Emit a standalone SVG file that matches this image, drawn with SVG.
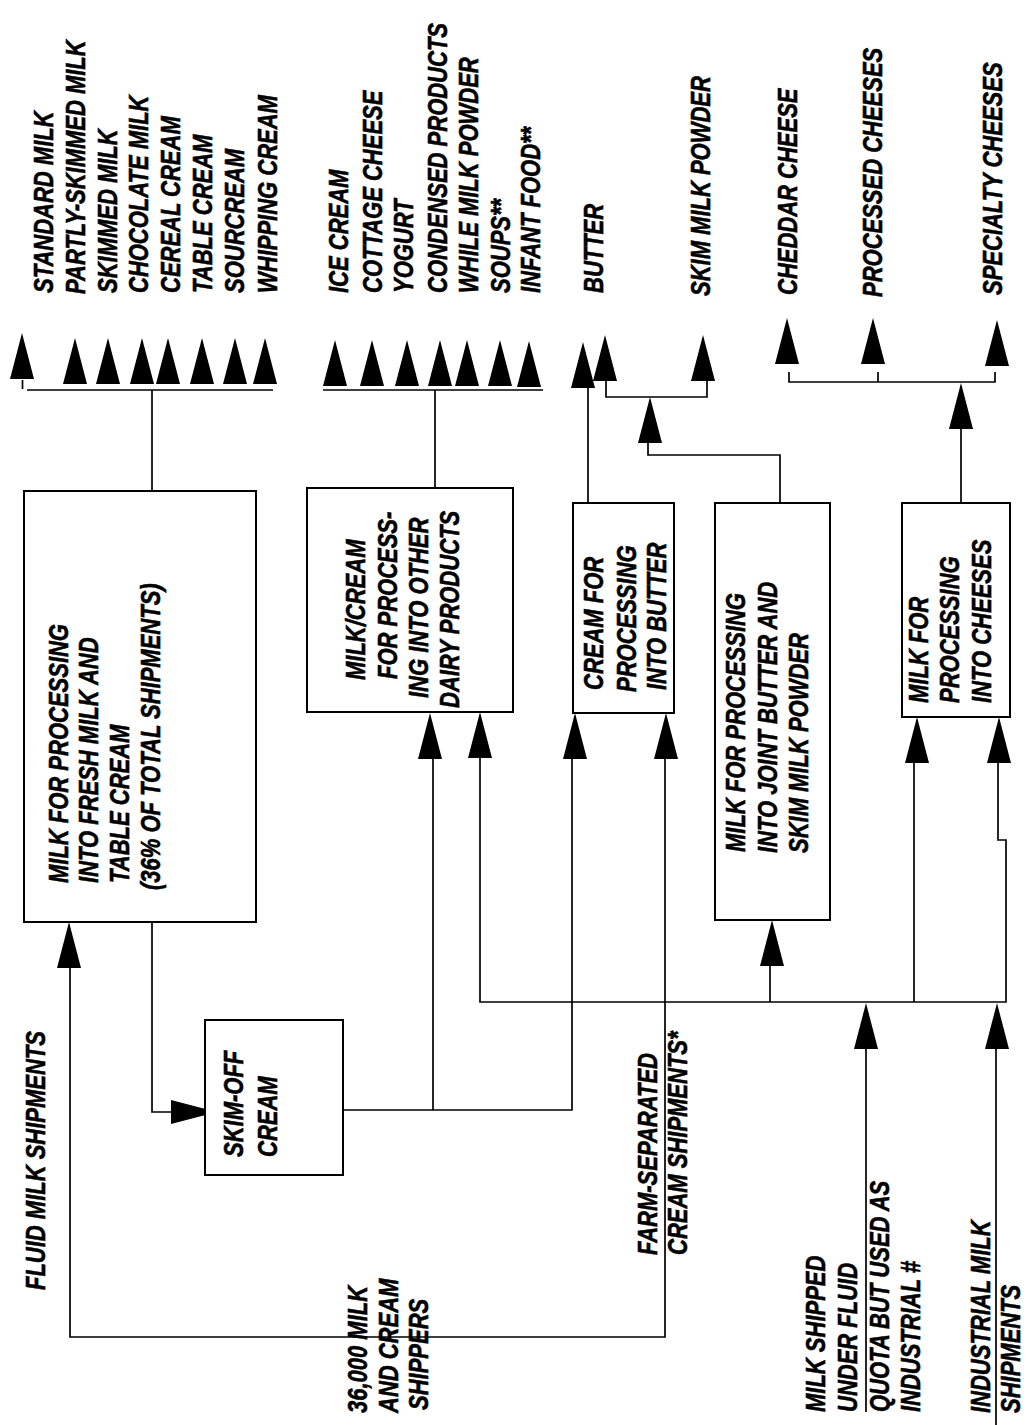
<svg xmlns="http://www.w3.org/2000/svg" width="1028" height="1425" viewBox="0 0 1028 1425">
<style>
.t{font-family:"Liberation Sans",Arial,sans-serif;font-weight:bold;font-style:italic;font-size:27px;fill:#000;stroke:#000;stroke-width:0.6}
.box{fill:#fff;stroke:#000;stroke-width:2}
.ln{fill:none;stroke:#000;stroke-width:1.7}
</style>
<defs>
<path id="ah" d="M0,0 L-12,46 L12,46 Z" fill="#000"/>
</defs>
<rect width="1028" height="1425" fill="#fff"/>

<g id="connectors">
<path class="ln" d="M27,390 H273 M152,390 V491 M22.5,380 V389"/>
<path class="ln" d="M323,390 H543 M435,390 V488"/>
<path class="ln" d="M588,387 V503"/>
<path class="ln" d="M606,380 V397 H707 V380"/>
<path class="ln" d="M648,443 V455 H780 V503"/>
<path class="ln" d="M789,372 V382 H995 V372 M878,372 V382"/>
<path class="ln" d="M961,428 V503"/>
<path class="ln" d="M70,965 V1337 H665 V758"/>
<path class="ln" d="M152,922 V1112 H172"/>
<path class="ln" d="M329,1110 H572 V757"/>
<path class="ln" d="M433,1110 V758"/>
<path class="ln" d="M480,757 V1002 H1006 V840 H998 V760"/>
<path class="ln" d="M770,1002 V963"/>
<path class="ln" d="M914,1002 V762"/>
<path class="ln" d="M866,1048 V1412"/>
<path class="ln" d="M996,1048 V1425"/>
<use href="#ah" x="22" y="333"/>
<use href="#ah" x="75" y="338"/>
<use href="#ah" x="108" y="338"/>
<use href="#ah" x="142" y="338"/>
<use href="#ah" x="168" y="338"/>
<use href="#ah" x="202" y="338"/>
<use href="#ah" x="235" y="338"/>
<use href="#ah" x="265" y="338"/>
<use href="#ah" x="335" y="340"/>
<use href="#ah" x="372" y="340"/>
<use href="#ah" x="407" y="340"/>
<use href="#ah" x="440" y="340"/>
<use href="#ah" x="467" y="340"/>
<use href="#ah" x="500" y="340"/>
<use href="#ah" x="529" y="341"/>
<use href="#ah" x="583" y="342"/>
<use href="#ah" x="605" y="335"/>
<use href="#ah" x="703" y="335"/>
<use href="#ah" x="650" y="397"/>
<use href="#ah" x="787" y="318"/>
<use href="#ah" x="873" y="318"/>
<use href="#ah" x="997" y="320"/>
<use href="#ah" x="961" y="383"/>
<use href="#ah" x="69" y="922"/>
<use href="#ah" x="430" y="713"/>
<use href="#ah" x="480" y="712"/>
<use href="#ah" x="575" y="713"/>
<use href="#ah" x="666" y="713"/>
<use href="#ah" x="772" y="920"/>
<use href="#ah" x="917" y="717"/>
<use href="#ah" x="999" y="717"/>
<use href="#ah" x="866" y="1003"/>
<use href="#ah" x="997" y="1003"/>
<use href="#ah" transform="translate(217,1112) rotate(90)"/>
</g>

<g id="box-fresh">
<rect class="box" x="24" y="491" width="232" height="431"/>
<text class="t" transform="translate(68,883) rotate(-90) scale(0.815,1)">MILK FOR PROCESSING</text>
<text class="t" transform="translate(98,883) rotate(-90) scale(0.815,1)">INTO FRESH MILK AND</text>
<text class="t" transform="translate(129,883) rotate(-90) scale(0.815,1)">TABLE CREAM</text>
<text class="t" transform="translate(160,890) rotate(-90) scale(0.815,1)">(36% OF TOTAL SHIPMENTS)</text>
</g>
<g id="box-other">
<rect class="box" x="307" y="488" width="206" height="224"/>
<text class="t" transform="translate(365,680) rotate(-90) scale(0.815,1)">MILK/CREAM</text>
<text class="t" transform="translate(397,679) rotate(-90) scale(0.815,1)">FOR PROCESS-</text>
<text class="t" transform="translate(428,698) rotate(-90) scale(0.815,1)">ING INTO OTHER</text>
<text class="t" transform="translate(459,708) rotate(-90) scale(0.815,1)">DAIRY PRODUCTS</text>
</g>
<g id="box-butter">
<rect class="box" x="573" y="503" width="101" height="210"/>
<text class="t" transform="translate(603,690) rotate(-90) scale(0.815,1)">CREAM FOR</text>
<text class="t" transform="translate(636,692) rotate(-90) scale(0.815,1)">PROCESSING</text>
<text class="t" transform="translate(666,690) rotate(-90) scale(0.815,1)">INTO BUTTER</text>
</g>
<g id="box-joint">
<rect class="box" x="715" y="503" width="115" height="417"/>
<text class="t" transform="translate(745,852) rotate(-90) scale(0.815,1)">MILK FOR PROCESSING</text>
<text class="t" transform="translate(777,853) rotate(-90) scale(0.815,1)">INTO JOINT BUTTER AND</text>
<text class="t" transform="translate(808,853) rotate(-90) scale(0.815,1)">SKIM MILK POWDER</text>
</g>
<g id="box-cheese">
<rect class="box" x="902" y="503" width="108" height="214"/>
<text class="t" transform="translate(928,703) rotate(-90) scale(0.815,1)">MILK FOR</text>
<text class="t" transform="translate(959,703) rotate(-90) scale(0.815,1)">PROCESSING</text>
<text class="t" transform="translate(991,703) rotate(-90) scale(0.815,1)">INTO CHEESES</text>
</g>
<g id="box-skimoff">
<rect class="box" x="205" y="1020" width="138" height="155"/>
<text class="t" transform="translate(243,1157) rotate(-90) scale(0.815,1)">SKIM-OFF</text>
<text class="t" transform="translate(277,1157) rotate(-90) scale(0.815,1)">CREAM</text>
</g>

<g id="products-fluid">
<text class="t" transform="translate(53,293) rotate(-90) scale(0.815,1)">STANDARD MILK</text>
<text class="t" transform="translate(85,294) rotate(-90) scale(0.815,1)">PARTLY-SKIMMED MILK</text>
<text class="t" transform="translate(117,293) rotate(-90) scale(0.815,1)">SKIMMED MILK</text>
<text class="t" transform="translate(148,293) rotate(-90) scale(0.815,1)">CHOCOLATE MILK</text>
<text class="t" transform="translate(180,293) rotate(-90) scale(0.815,1)">CEREAL CREAM</text>
<text class="t" transform="translate(212,293) rotate(-90) scale(0.815,1)">TABLE CREAM</text>
<text class="t" transform="translate(244,293) rotate(-90) scale(0.815,1)">SOURCREAM</text>
<text class="t" transform="translate(277,293) rotate(-90) scale(0.815,1)">WHIPPING CREAM</text>
</g>
<g id="products-other">
<text class="t" transform="translate(348,293) rotate(-90) scale(0.815,1)">ICE CREAM</text>
<text class="t" transform="translate(382,293) rotate(-90) scale(0.815,1)">COTTAGE CHEESE</text>
<text class="t" transform="translate(413,293) rotate(-90) scale(0.815,1)">YOGURT</text>
<text class="t" transform="translate(447,293) rotate(-90) scale(0.815,1)">CONDENSED PRODUCTS</text>
<text class="t" transform="translate(478,293) rotate(-90) scale(0.815,1)">WHILE MILK POWDER</text>
<text class="t" transform="translate(510,293) rotate(-90) scale(0.815,1)">SOUPS**</text>
<text class="t" transform="translate(540,293) rotate(-90) scale(0.815,1)">INFANT FOOD**</text>
</g>
<g id="products-butter">
<text class="t" transform="translate(603,293) rotate(-90) scale(0.815,1)">BUTTER</text>
<text class="t" transform="translate(710,296) rotate(-90) scale(0.815,1)">SKIM MILK POWDER</text>
</g>
<g id="products-cheese">
<text class="t" transform="translate(797,295) rotate(-90) scale(0.815,1)">CHEDDAR CHEESE</text>
<text class="t" transform="translate(882,297) rotate(-90) scale(0.815,1)">PROCESSED CHEESES</text>
<text class="t" transform="translate(1002,295) rotate(-90) scale(0.815,1)">SPECIALTY CHEESES</text>
</g>
<g id="sources">
<text class="t" transform="translate(45,1290) rotate(-90) scale(0.815,1)">FLUID MILK SHIPMENTS</text>
<text class="t" transform="translate(367,1413) rotate(-90) scale(0.815,1)">36,000 MILK</text>
<text class="t" transform="translate(398,1413) rotate(-90) scale(0.815,1)">AND CREAM</text>
<text class="t" transform="translate(428,1410) rotate(-90) scale(0.815,1)">SHIPPERS</text>
<text class="t" transform="translate(657,1255) rotate(-90) scale(0.815,1)">FARM-SEPARATED</text>
<text class="t" transform="translate(687,1255) rotate(-90) scale(0.815,1)">CREAM SHIPMENTS*</text>
<text class="t" transform="translate(825,1412) rotate(-90) scale(0.815,1)">MILK SHIPPED</text>
<text class="t" transform="translate(857,1412) rotate(-90) scale(0.815,1)">UNDER FLUID</text>
<text class="t" transform="translate(889,1412) rotate(-90) scale(0.815,1)">QUOTA BUT USED AS</text>
<text class="t" transform="translate(920,1412) rotate(-90) scale(0.815,1)">INDUSTRIAL #</text>
<text class="t" transform="translate(990,1413) rotate(-90) scale(0.815,1)">INDUSTRIAL MILK</text>
<text class="t" transform="translate(1020,1413) rotate(-90) scale(0.815,1)">SHIPMENTS</text>
</g>
</svg>
